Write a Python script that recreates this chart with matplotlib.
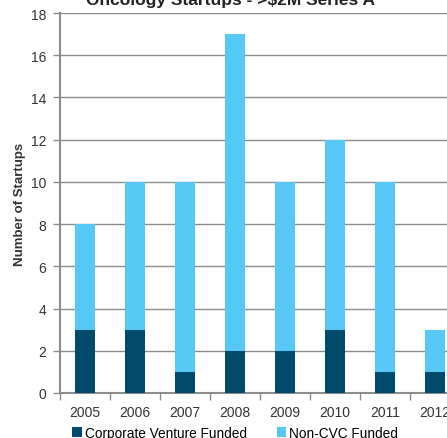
import numpy as np
import matplotlib.pyplot as plt

plt.rcParams['font.family'] = ['Liberation Sans', 'DejaVu Sans']

years = ['2005', '2006', '2007', '2008', '2009', '2010', '2011', '2012']
cvc = [3, 3, 1, 2, 2, 3, 1, 1]
non_cvc = [5, 7, 9, 15, 8, 9, 9, 2]

dark = '#004b6b'
light = '#55c8f5'
grey = '#8c8c8c'

fig = plt.figure(figsize=(4.47, 4.39), dpi=100)
ax = fig.add_axes([60 / 447, 45 / 439, 400 / 447, 380 / 439])

x = np.arange(len(years))
ax.bar(x, cvc, width=0.4, color=dark, label='Corporate Venture Funded', zorder=3)
ax.bar(x, non_cvc, width=0.4, bottom=cvc, color=light, label='Non-CVC Funded', zorder=3)

ax.set_xlim(-0.5, len(years) - 0.5)
ax.set_ylim(0, 18)
ax.set_yticks(range(0, 19, 2))
ax.yaxis.grid(True, color=grey, linewidth=1, zorder=0)
ax.set_xticks(x)
ax.set_xticklabels(years)
ax.set_xticks(np.arange(-0.5, len(years)), minor=True)
ax.tick_params(axis='x', which='major', length=0, pad=9, labelsize=10, colors='#333333')
ax.tick_params(axis='x', which='minor', length=5, color=grey, width=1)
ax.tick_params(axis='y', length=5, color=grey, width=1, labelsize=10, labelcolor='#333333', pad=5)
for s in ['top', 'right']:
    ax.spines[s].set_visible(False)
for s in ['left', 'bottom']:
    ax.spines[s].set_color(grey)
    ax.spines[s].set_linewidth(1.5)

ax.set_ylabel('Number of Startups', fontsize=9.5, fontweight='bold', color='#333333', labelpad=3)
fig.text(230 / 447, 1.0, 'Oncology Startups - >$2M Series A', ha='center', va='center',
         fontsize=12.5, fontweight='bold', color='#222222')

fig.legend(loc='center', bbox_to_anchor=(235 / 447, 5 / 439), ncol=2, frameon=False,
           fontsize=9.8, handlelength=0.7, handleheight=0.7, handletextpad=0.2, columnspacing=2.2)

fig.savefig('out.png', dpi=100)
